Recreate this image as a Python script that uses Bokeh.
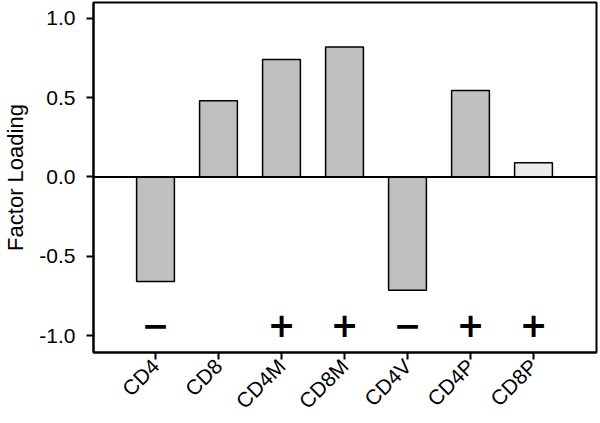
import math
from bokeh.plotting import figure
from bokeh.models import ColumnDataSource, FixedTicker, PrintfTickFormatter, Span, Range1d
from bokeh.core.properties import value
from bokeh.embed import file_html
from bokeh.resources import INLINE

categories = ["CD4", "CD8", "CD4M", "CD8M", "CD4V", "CD4P", "CD8P"]
loadings = [-0.66, 0.48, 0.74, 0.82, -0.715, 0.545, 0.09]
bar_colors = ["#c0c0c0", "#c0c0c0", "#c0c0c0", "#c0c0c0", "#c0c0c0", "#c0c0c0", "#ebebeb"]
signs = ["\u2212", "", "+", "+", "\u2212", "+", "+"]
sign_y = -0.93
y_ticks = [-1.0, -0.5, 0.0, 0.5, 1.0]
y_label = "Factor Loading"

xs = list(range(len(categories)))
src = ColumnDataSource(dict(x=xs, top=loadings, color=bar_colors))
sign_src = ColumnDataSource(dict(x=xs, y=[sign_y] * len(xs), t=signs))

FONT = "Liberation Sans"

p = figure(width=600, height=423, output_backend="svg", toolbar_location=None,
           x_range=Range1d(-0.984, 7.0), y_range=Range1d(-1.107, 1.10))
p.min_border_left = 93
p.min_border_right = 4
p.min_border_top = 2
p.min_border_bottom = 70
p.background_fill_color = "white"
p.border_fill_color = "white"
p.outline_line_color = "black"
p.outline_line_width = 2
p.xgrid.visible = False
p.ygrid.visible = False

p.vbar(x="x", top="top", bottom=0, width=0.6, fill_color="color",
       line_color="black", line_width=1.5, source=src)
p.add_layout(Span(location=0, dimension="width", line_color="black", line_width=2))

p.text(x="x", y="y", text="t", source=sign_src, text_font=value("DejaVu Sans"),
       text_font_style="bold", text_font_size="33px", text_align="center",
       text_baseline="middle", text_color="black")

p.yaxis.ticker = FixedTicker(ticks=y_ticks)
p.yaxis.formatter = PrintfTickFormatter(format="%.1f")
p.yaxis.axis_label = y_label
p.yaxis.axis_label_text_font = FONT
p.yaxis.axis_label_text_font_style = "normal"
p.yaxis.axis_label_text_font_size = "22px"
p.yaxis.axis_label_text_color = "black"
p.yaxis.axis_label_standoff = 8
p.yaxis.major_label_text_font = FONT
p.yaxis.major_label_text_font_size = "21px"
p.yaxis.major_label_standoff = 11

p.xaxis.ticker = FixedTicker(ticks=xs)
p.xaxis.major_label_overrides = {i: c for i, c in zip(xs, categories)}
p.xaxis.major_label_orientation = math.pi / 4
p.xaxis.major_label_text_font = FONT
p.xaxis.major_label_text_font_size = "21px"
p.xaxis.major_label_standoff = 3

for ax in (p.xaxis, p.yaxis):
    ax.axis_line_width = 2
    ax.axis_line_color = "black"
    ax.major_tick_line_width = 2
    ax.major_tick_line_color = "black"
    ax.major_tick_out = 7
    ax.major_tick_in = 0
    ax.minor_tick_line_color = None
    ax.major_label_text_color = "black"

open("out.html", "w").write(file_html(p, INLINE))
